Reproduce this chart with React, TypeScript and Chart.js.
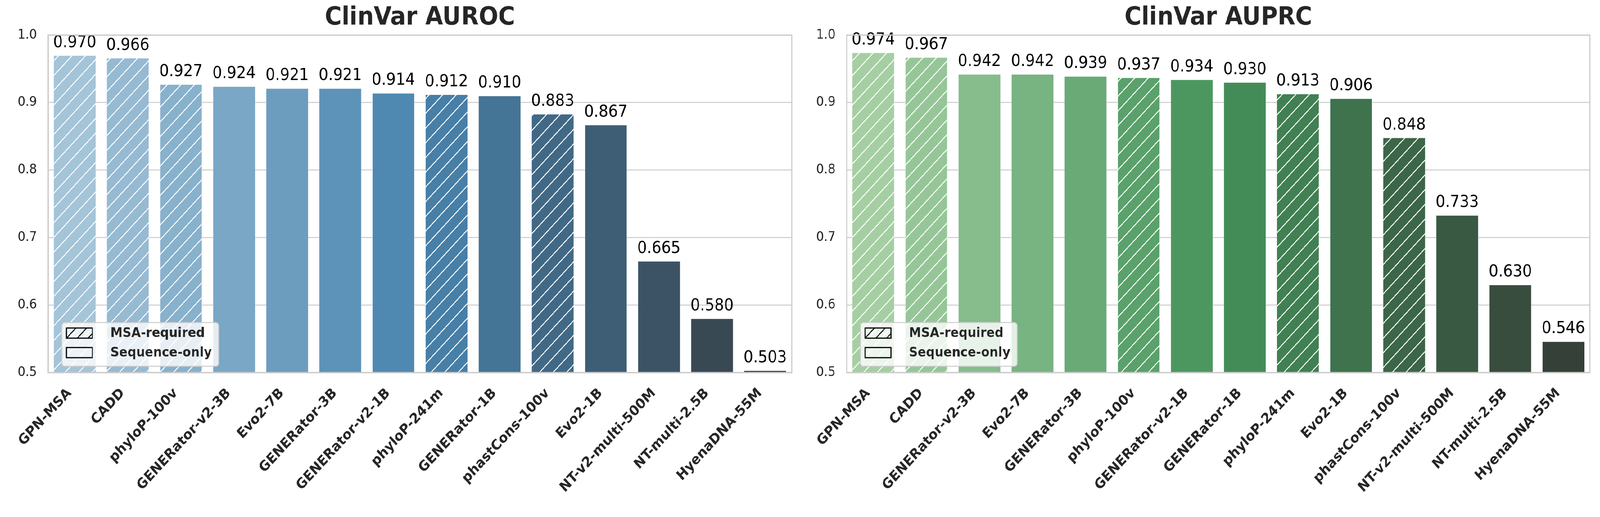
import React, { useEffect, useRef } from 'react';
import { Chart, registerables } from 'chart.js';

Chart.register(...registerables);
Chart.defaults.font.family = '"DejaVu Sans", sans-serif';

// ---- data ----
const aurocModels = [
    'GPN-MSA', 'CADD', 'phyloP-100v', 'GENERator-v2-3B', 'Evo2-7B', 'GENERator-3B', 'GENERator-v2-1B',
    'phyloP-241m', 'GENERator-1B', 'phastCons-100v', 'Evo2-1B', 'NT-v2-multi-500M', 'NT-multi-2.5B', 'HyenaDNA-55M',
];
const aurocValues = [0.970, 0.966, 0.927, 0.924, 0.921, 0.921, 0.914, 0.912, 0.910, 0.883, 0.867, 0.665, 0.580, 0.503];

const auprcModels = [
    'GPN-MSA', 'CADD', 'GENERator-v2-3B', 'Evo2-7B', 'GENERator-3B', 'phyloP-100v', 'GENERator-v2-1B',
    'GENERator-1B', 'phyloP-241m', 'Evo2-1B', 'phastCons-100v', 'NT-v2-multi-500M', 'NT-multi-2.5B', 'HyenaDNA-55M',
];
const auprcValues = [0.974, 0.967, 0.942, 0.942, 0.939, 0.937, 0.934, 0.930, 0.913, 0.906, 0.848, 0.733, 0.630, 0.546];

const msaModels = ['GPN-MSA', 'CADD', 'phyloP-100v', 'phyloP-241m', 'phastCons-100v'];
const legendLabels = ['MSA-required', 'Sequence-only'];
const yMin = 0.5;
const yMax = 1.0;
const yStep = 0.1;

const REF_W = 4450;
const REF_H = 1324;

// ---- palette helpers (seaborn "*_d" palettes with saturation 0.75) ----
type RGB = [number, number, number];

function mix(a: RGB, b: RGB, t: number): RGB {
    return [a[0] + (b[0] - a[0]) * t, a[1] + (b[1] - a[1]) * t, a[2] + (b[2] - a[2]) * t];
}

function desaturate(c: RGB, prop: number): string {
    const r = c[0] / 255, g = c[1] / 255, b = c[2] / 255;
    const mx = Math.max(r, g, b), mn = Math.min(r, g, b);
    const l = (mx + mn) / 2;
    if (mx === mn) return `rgb(${c.map(Math.round).join(',')})`;
    const d = mx - mn;
    const s = l > 0.5 ? d / (2 - mx - mn) : d / (mx + mn);
    const s2 = s * prop;
    const d2 = l > 0.5 ? s2 * (2 - 2 * l) : s2 * 2 * l;
    const lo = l - d2 / 2;
    const out = [r, g, b].map((v) => lo + ((v - mn) / d) * d2);
    return `rgb(${out.map((v) => Math.round(v * 255)).join(',')})`;
}

function darkPalette(light: RGB, mid: RGB, n: number): string[] {
    const dark: RGB = [51, 51, 51];
    const out: string[] = [];
    for (let k = 1; k <= n; k++) {
        const t = k / (n + 1);
        const c = t <= 0.5 ? mix(light, mid, t / 0.5) : mix(mid, dark, (t - 0.5) / 0.5);
        out.push(desaturate(c, 0.75));
    }
    return out;
}

const bluesD = darkPalette([171, 208, 230], [55, 135, 192], aurocModels.length);
const greensD = darkPalette([174, 222, 167], [55, 160, 85], auprcModels.length);

// hatching, value labels, rotated category labels, frame and legend
const overlayPlugin = {
    id: 'overlay',
    afterDatasetsDraw(chart: any, _args: any, opts: any) {
        const { ctx, chartArea } = chart;
        const meta = chart.getDatasetMeta(0);
        const values = chart.data.datasets[0].data as number[];
        const labels = chart.data.labels as string[];
        const xScale = chart.scales.x;
        const hatched = opts.hatched as boolean[];
        const sp = 37.7;
        const c0 = chartArea.left + 16 + 193;

        ctx.save();
        meta.data.forEach((bar: any, i: number) => {
            const { x, y, base, width } = bar.getProps(['x', 'y', 'base', 'width'], true);
            const left = x - width / 2;
            const right = x + width / 2;
            if (hatched[i]) {
                ctx.save();
                ctx.beginPath();
                ctx.rect(left, y, width, base - y);
                ctx.clip();
                ctx.strokeStyle = '#ffffff';
                ctx.lineWidth = 2.5;
                ctx.beginPath();
                let c = c0 + Math.ceil((left + y - c0) / sp) * sp;
                for (; c <= right + base + sp; c += sp) {
                    ctx.moveTo(left - 5, c - left + 5);
                    ctx.lineTo(right + 5, c - right - 5);
                }
                ctx.stroke();
                ctx.restore();
            }
            ctx.fillStyle = '#000000';
            ctx.font = '42px "DejaVu Sans"';
            ctx.textAlign = 'center';
            ctx.textBaseline = 'alphabetic';
            ctx.fillText(values[i].toFixed(3), x, y - 21);
        });

        // category labels, rotated 45 degrees and right-aligned under each tick
        labels.forEach((label, i) => {
            const tx = xScale.getPixelForValue(i);
            ctx.save();
            ctx.translate(tx - 8, chartArea.bottom + 54);
            ctx.rotate(-Math.PI / 4);
            ctx.fillStyle = '#262626';
            ctx.font = 'bold 36px "DejaVu Sans"';
            ctx.textAlign = 'right';
            ctx.textBaseline = 'alphabetic';
            ctx.fillText(label, 0, 0);
            ctx.restore();
        });

        // axes frame
        ctx.strokeStyle = '#cccccc';
        ctx.lineWidth = 3;
        ctx.strokeRect(chartArea.left, chartArea.top, chartArea.right - chartArea.left, chartArea.bottom - chartArea.top);

        // legend
        const bx = chartArea.left + 38;
        const bw = 436;
        const bh = 112;
        const by = chartArea.bottom - 16 - bh;
        ctx.beginPath();
        ctx.roundRect(bx, by, bw, bh, 8);
        ctx.fillStyle = 'rgba(255,255,255,0.8)';
        ctx.fill();
        ctx.strokeStyle = '#cccccc';
        ctx.lineWidth = 2.5;
        ctx.stroke();

        legendLabels.forEach((label, j) => {
            const px = bx + 13;
            const cy = by + 27 + j * 50;
            const pw = 72;
            const ph = 26;
            if (j === 0) {
                ctx.save();
                ctx.beginPath();
                ctx.rect(px, cy - ph / 2, pw, ph);
                ctx.clip();
                ctx.strokeStyle = '#000000';
                ctx.lineWidth = 2.5;
                ctx.beginPath();
                for (let k = -1; k < 4; k++) {
                    const sx = px + k * 30;
                    ctx.moveTo(sx, cy + ph / 2);
                    ctx.lineTo(sx + ph, cy - ph / 2);
                }
                ctx.stroke();
                ctx.restore();
            }
            ctx.strokeStyle = '#000000';
            ctx.lineWidth = 3;
            ctx.strokeRect(px, cy - ph / 2, pw, ph);
            ctx.fillStyle = '#262626';
            ctx.font = 'bold 34px "DejaVu Sans"';
            ctx.textAlign = 'left';
            ctx.textBaseline = 'middle';
            ctx.fillText(label, bx + 135, cy + 1);
        });
        ctx.restore();
    },
};

interface PanelProps {
    title: string;
    models: string[];
    values: number[];
    colors: string[];
    yWidth: number;
    padRight: number;
    pixelRatio: number;
}

const BarPanel: React.FC<PanelProps> = ({ title, models, values, colors, yWidth, padRight, pixelRatio }) => {
    const canvasRef = useRef<HTMLCanvasElement>(null);

    useEffect(() => {
        if (!canvasRef.current) return;
        const hatched = models.map((m) => msaModels.includes(m));

        const chart = new Chart(canvasRef.current, {
            type: 'bar',
            data: {
                labels: models,
                datasets: [
                    {
                        data: values,
                        backgroundColor: colors,
                        borderColor: 'rgba(255,255,255,0.7)',
                        borderWidth: 1,
                        categoryPercentage: 0.8,
                        barPercentage: 1.0,
                    },
                ],
            },
            options: {
                responsive: false,
                animation: false,
                devicePixelRatio: pixelRatio,
                layout: { padding: { left: 0, right: padRight, top: 0, bottom: 0 } },
                plugins: {
                    legend: { display: false },
                    tooltip: { enabled: false },
                    title: {
                        display: true,
                        text: title,
                        fullSize: false,
                        color: '#262626',
                        font: { size: 64, weight: 'bold' },
                        padding: { top: 8, bottom: 5 },
                    },
                    overlay: { hatched },
                } as any,
                scales: {
                    x: {
                        grid: { display: false },
                        border: { display: true, color: '#cccccc', width: 3 },
                        ticks: { display: false, autoSkip: false },
                        afterFit: (scale: any) => {
                            scale.height = 370;
                        },
                    },
                    y: {
                        min: yMin,
                        max: yMax,
                        grid: { color: '#cccccc', lineWidth: 2.5, drawTicks: false },
                        border: { display: true, color: '#cccccc', width: 3 },
                        ticks: {
                            stepSize: yStep,
                            padding: 31,
                            color: '#262626',
                            font: { size: 34 },
                            callback: (v: any) => Number(v).toFixed(1),
                        },
                        afterFit: (scale: any) => {
                            scale.width = yWidth;
                        },
                    },
                },
            },
            plugins: [overlayPlugin],
        });

        return () => {
            chart.destroy();
        };
    }, [title, models, values, colors, yWidth, padRight, pixelRatio]);

    return (
        <div style={{ width: REF_W / 2, height: REF_H, position: 'relative' }}>
            <canvas ref={canvasRef} style={{ width: REF_W / 2, height: REF_H, display: 'block' }} />
        </div>
    );
};

export default function App() {
    // fit the 4450x1324 design to whatever the viewport really is
    const sx = window.innerWidth / REF_W;
    const sy = window.innerHeight / REF_H;
    const ratio = (window.devicePixelRatio || 1) * Math.max(sx, sy);

    useEffect(() => {
        document.body.style.margin = '0';
        document.body.style.overflow = 'hidden';
    }, []);

    return (
        <div
            style={{
                position: 'absolute',
                left: 0,
                top: 0,
                width: REF_W,
                height: REF_H,
                display: 'flex',
                background: '#ffffff',
                transform: `scale(${sx}, ${sy})`,
                transformOrigin: '0 0',
            }}
        >
            <BarPanel title="ClinVar AUROC" models={aurocModels} values={aurocValues} colors={bluesD} yWidth={134} padRight={23} pixelRatio={ratio} />
            <BarPanel title="ClinVar AUPRC" models={auprcModels} values={auprcValues} colors={greensD} yWidth={130} padRight={28} pixelRatio={ratio} />
        </div>
    );
}
